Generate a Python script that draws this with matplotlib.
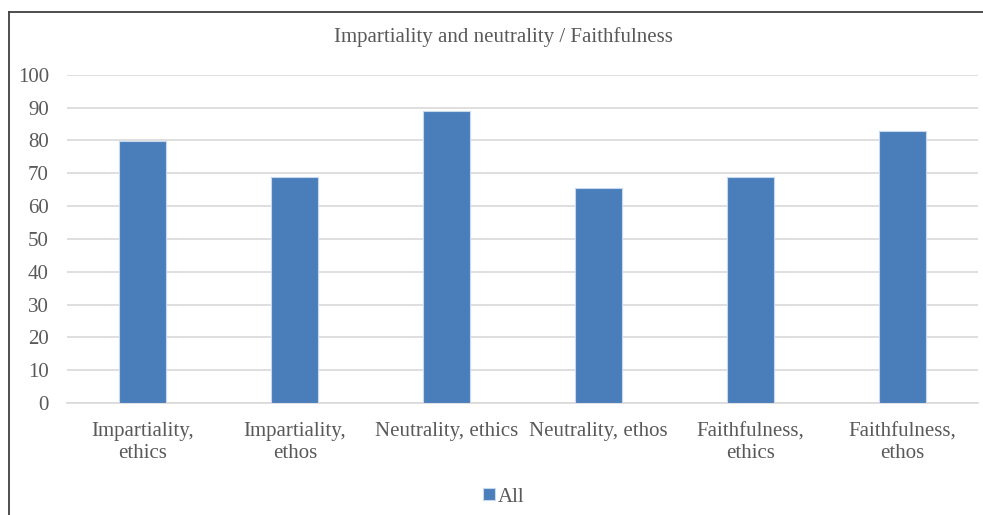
import matplotlib
matplotlib.use("Agg")
import matplotlib.pyplot as plt
from matplotlib.lines import Line2D

categories = ["Impartiality,\nethics", "Impartiality,\nethos", "Neutrality, ethics",
              "Neutrality, ethos", "Faithfulness,\nethics", "Faithfulness,\nethos"]
values_all = [79.7, 68.8, 89.0, 65.6, 68.8, 82.8]
yticks = [0, 10, 20, 30, 40, 50, 60, 70, 80, 90, 100]
title = "Impartiality and neutrality / Faithfulness"

plt.rcParams["font.family"] = ["Liberation Serif", "DejaVu Serif"]
text_color = "#595959"
grid_color = "#d9d9d9"
bar_color = "#4a7ebb"
fs = 15

W, H = 983, 515
fig = plt.figure(figsize=(W / 100, H / 100), dpi=100)
ax = fig.add_axes([67 / W, 1 - 403 / H, (978 - 67) / W, (403 - 74.7) / H])

x = list(range(len(categories)))
ax.bar(x, values_all, width=0.31, color=bar_color, edgecolor="#c8d8ee",
       linewidth=0.8, label="All", zorder=3)

ax.set_xlim(-0.5, len(categories) - 0.5)
ax.set_ylim(0, 100)
ax.set_yticks(yticks)
ax.set_yticklabels([str(v) for v in yticks])
ax.set_xticks(x)
ax.set_xticklabels(categories, linespacing=1.15)
ax.yaxis.grid(True, color=grid_color, linewidth=1.2, zorder=0)
ax.tick_params(axis="both", length=0, colors=text_color, labelsize=fs)
ax.tick_params(axis="y", pad=13)
ax.tick_params(axis="x", pad=14)
for side in ("top", "right", "left"):
    ax.spines[side].set_visible(False)
ax.spines["bottom"].set_color(grid_color)
ax.spines["bottom"].set_linewidth(1.2)

fig.text(503 / W, 1 - 37 / H, title, ha="center", va="center",
         fontsize=fs, color=text_color)

fig.legend(loc="center", bbox_to_anchor=(504 / W, 1 - 497 / H), frameon=False,
           fontsize=fs, labelcolor=text_color, handlelength=0.55,
           handleheight=0.55, handletextpad=0.15)

# outer chart frame (top and left edges)
frame_color = "#404040"
fig.add_artist(Line2D([8.5 / W, 1.0], [1 - 12 / H, 1 - 12 / H],
                      transform=fig.transFigure, color=frame_color, linewidth=1.3))
fig.add_artist(Line2D([8.5 / W, 8.5 / W], [0.0, 1 - 12 / H],
                      transform=fig.transFigure, color=frame_color, linewidth=1.3))

fig.savefig("out.png", dpi=100)
